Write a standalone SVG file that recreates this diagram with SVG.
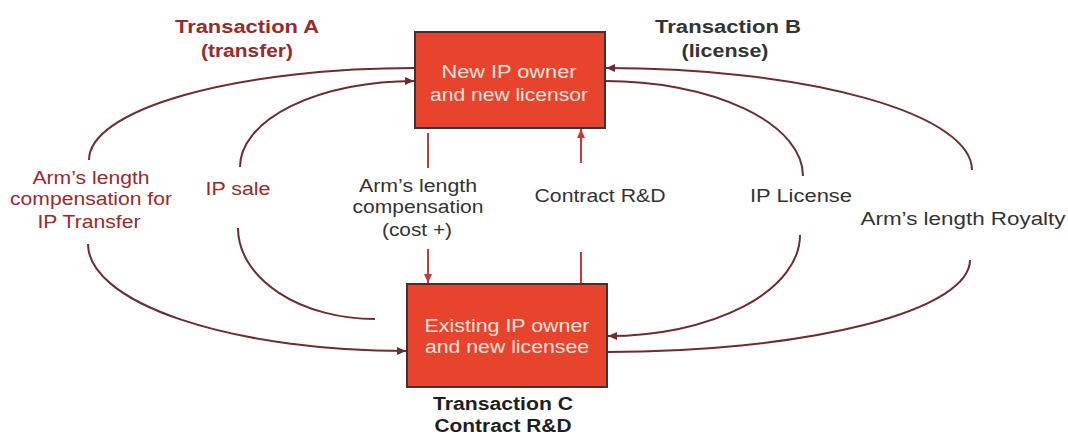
<svg xmlns="http://www.w3.org/2000/svg" width="1068" height="436" viewBox="0 0 1068 436">
<style>
text{font-family:"Liberation Sans",Arial,sans-serif;text-anchor:middle;}
.lbl{font-size:18px;}
.red{fill:#9a2a2a;}
.dark{fill:#333333;}
.bold{font-weight:bold;font-size:18px;}
.box{fill:#e8432d;stroke:#3a3434;stroke-width:2;}
.btxt{fill:#fbe3dc;font-size:18px;}
.arc{fill:none;stroke:#6e2c2e;stroke-width:2;}
.vline{fill:none;stroke:#c8383a;stroke-width:2;}
</style>
<defs>
<marker id="ah" markerUnits="userSpaceOnUse" markerWidth="10" markerHeight="8" refX="9" refY="4" orient="auto">
<path d="M0,0 L9,4 L0,8 z" fill="#6e2c2e"/>
</marker>
<marker id="ahr" markerUnits="userSpaceOnUse" markerWidth="10" markerHeight="8" refX="9" refY="4" orient="auto">
<path d="M0,0 L9,4 L0,8 z" fill="#c8383a"/>
</marker>
</defs>
<rect width="1068" height="436" fill="#ffffff"/>
<g id="connectors">
<path class="arc" d="M415,68 A326,92 0 0 0 89,160"/>
<path class="arc" d="M88,244 A318,107 0 0 0 406,351" marker-end="url(#ah)"/>
<path class="arc" d="M240,167 A174,86 0 0 1 414,81" marker-end="url(#ah)"/>
<path class="arc" d="M238,228 A137,91 0 0 0 375,319"/>
<path class="arc" d="M605,81 A198,95 0 0 1 803,176"/>
<path class="arc" d="M800,235 A192,101 0 0 1 608,336" marker-end="url(#ah)"/>
<path class="arc" d="M972,170 A366,102 0 0 0 606,68" marker-end="url(#ah)"/>
<path class="arc" d="M970,260 A362,92 0 0 1 608,352"/>
<path class="vline" d="M428,133 L428,168"/>
<path class="vline" d="M428,249 L428,283" marker-end="url(#ahr)"/>
<path class="vline" d="M581,163 L581,129" marker-end="url(#ahr)"/>
<path class="vline" d="M581,252 L581,284"/>
</g>
<g id="node-top">
<rect class="box" x="415" y="32" width="190" height="96"/>
<text class="btxt" x="509" y="78" textLength="135" lengthAdjust="spacingAndGlyphs">New IP owner</text>
<text class="btxt" x="509" y="101" textLength="158" lengthAdjust="spacingAndGlyphs">and new licensor</text>
</g>
<g id="node-bottom">
<rect class="box" x="407" y="284" width="200" height="103"/>
<text class="btxt" x="507" y="332" textLength="165" lengthAdjust="spacingAndGlyphs">Existing IP owner</text>
<text class="btxt" x="507" y="353" textLength="164" lengthAdjust="spacingAndGlyphs">and new licensee</text>
</g>
<g id="title-a">
<text class="bold red" x="247" y="33" textLength="144" lengthAdjust="spacingAndGlyphs">Transaction A</text>
<text class="bold red" x="247" y="57" textLength="92" lengthAdjust="spacingAndGlyphs">(transfer)</text>
</g>
<g id="title-b">
<text class="bold dark" x="728" y="33" textLength="146" lengthAdjust="spacingAndGlyphs">Transaction B</text>
<text class="bold dark" x="725" y="57" textLength="87" lengthAdjust="spacingAndGlyphs">(license)</text>
</g>
<g id="title-c">
<text class="bold" fill="#1e1e1e" x="503" y="410" textLength="140" lengthAdjust="spacingAndGlyphs">Transaction C</text>
<text class="bold" fill="#1e1e1e" x="503" y="432" textLength="137" lengthAdjust="spacingAndGlyphs">Contract R&amp;D</text>
</g>
<g id="labels">
<text class="lbl red" x="91" y="184" textLength="117" lengthAdjust="spacingAndGlyphs">Arm’s length</text>
<text class="lbl red" x="91" y="205" textLength="162" lengthAdjust="spacingAndGlyphs">compensation for</text>
<text class="lbl red" x="89" y="228" textLength="103" lengthAdjust="spacingAndGlyphs">IP Transfer</text>
<text class="lbl red" x="238" y="195" textLength="65" lengthAdjust="spacingAndGlyphs">IP sale</text>
<text class="lbl dark" x="418" y="192" textLength="118" lengthAdjust="spacingAndGlyphs">Arm’s length</text>
<text class="lbl dark" x="418" y="213" textLength="131" lengthAdjust="spacingAndGlyphs">compensation</text>
<text class="lbl dark" x="417" y="236" textLength="70" lengthAdjust="spacingAndGlyphs">(cost +)</text>
<text class="lbl dark" x="600" y="202" textLength="131" lengthAdjust="spacingAndGlyphs">Contract R&amp;D</text>
<text class="lbl dark" x="801" y="202" textLength="102" lengthAdjust="spacingAndGlyphs">IP License</text>
<text class="lbl dark" x="963" y="225" textLength="205" lengthAdjust="spacingAndGlyphs">Arm’s length Royalty</text>
</g>
</svg>
